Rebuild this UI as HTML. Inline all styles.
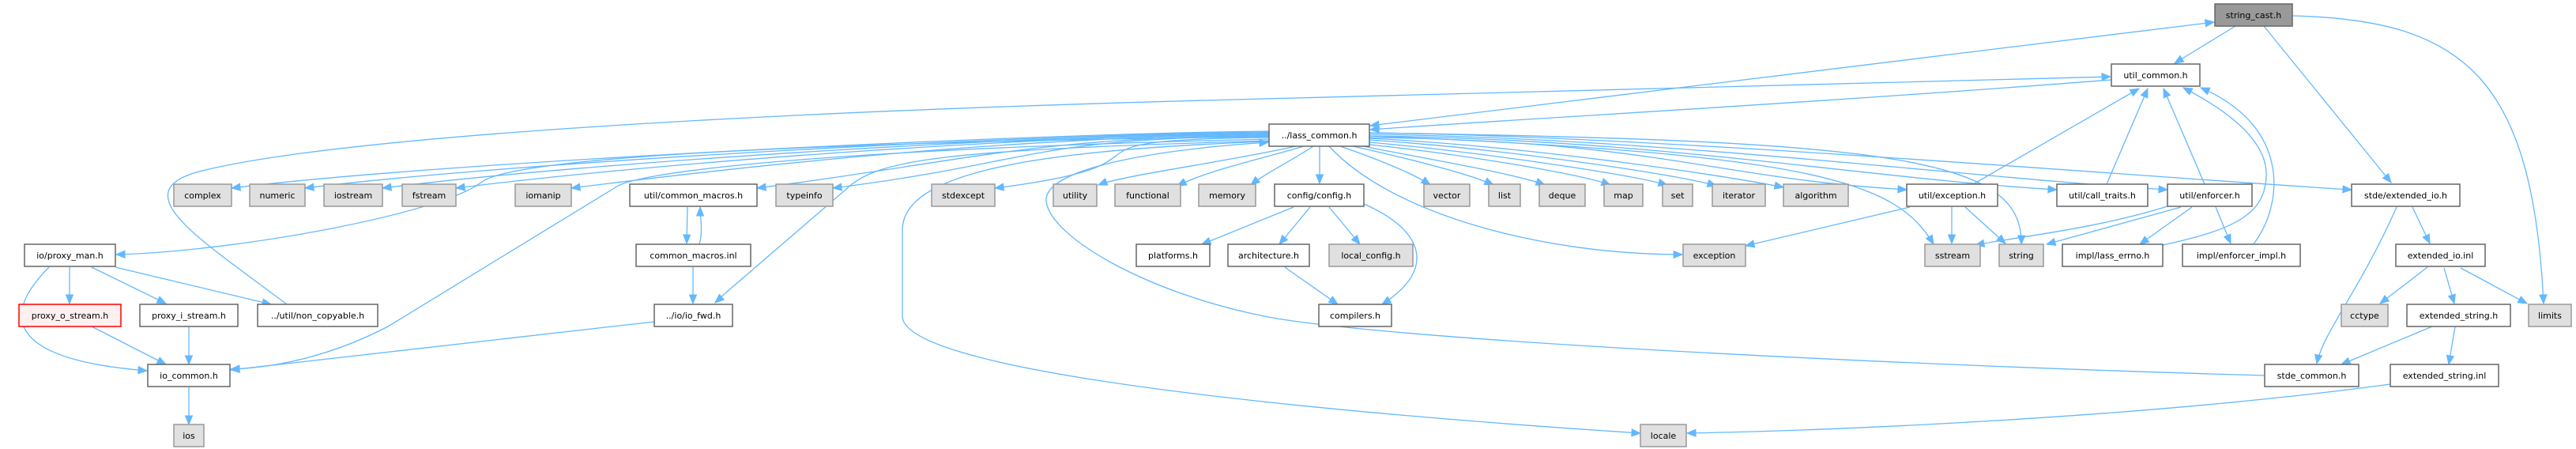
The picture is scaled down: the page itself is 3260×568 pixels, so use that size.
<!DOCTYPE html>
<html><head><meta charset="utf-8">
<style>
html,body{margin:0;padding:0;background:#fff;}
svg{display:block;}
text{font-family:"DejaVu Sans","Liberation Sans",sans-serif;font-size:11px;fill:#000;}
</style></head>
<body>
<svg id="g" width="3260" height="568" viewBox="0 0 3260 568" xmlns="http://www.w3.org/2000/svg">
<g id="edges" fill="none" stroke="#63b8ff" stroke-width="1.3"></g>
<g id="arrows" fill="#63b8ff" stroke="#63b8ff" stroke-width="1"></g>
<g id="nodes">
<!-- row0 -->
<rect x="2803" y="5" width="98" height="28" fill="#999" stroke="#666" stroke-width="1.5"/><text x="2852" y="23" text-anchor="middle">string_cast.h</text>
<!-- row1 -->
<rect x="2672" y="81" width="112" height="28" fill="#fff" stroke="#666" stroke-width="1.5"/><text x="2728" y="99" text-anchor="middle">util_common.h</text>
<!-- row2 -->
<rect x="1606" y="157" width="127" height="28" fill="#fff" stroke="#666" stroke-width="1.5"/><text x="1669.5" y="175" text-anchor="middle">../lass_common.h</text>
<!-- row3 -->
<g id="r3"></g>
</g>
</svg>
<script>
var NS="http://www.w3.org/2000/svg";
var nodes=document.getElementById('nodes');
function node(label,x1,x2,y,gray,red){
  var r=document.createElementNS(NS,'rect');
  r.setAttribute('x',x1);r.setAttribute('y',y);r.setAttribute('width',x2-x1);r.setAttribute('height',28);
  r.setAttribute('fill',red?'#fff0f0':(gray?'#e0e0e0':'#fff'));
  r.setAttribute('stroke',red?'#f00':(gray?'#999':'#666'));r.setAttribute('stroke-width','1.5');
  nodes.appendChild(r);
  var t=document.createElementNS(NS,'text');
  t.setAttribute('x',(x1+x2)/2);t.setAttribute('y',y+18);t.setAttribute('text-anchor','middle');
  t.textContent=label;nodes.appendChild(t);
}
var R3=233,R4=309,R5=385,R6=461,R7=537;
[["complex",220,293,1],["numeric",316,386,1],["iostream",410,484,1],["fstream",509,577,1],["iomanip",652,723,1],
["util/common_macros.h",797,958,0],["typeinfo",982,1054,1],["stdexcept",1179,1259,1],["utility",1333,1388,1],
["functional",1411,1494,1],["memory",1517,1589,1],["config/config.h",1613,1726,0],["vector",1802,1860,1],
["list",1884,1924,1],["deque",1948,2006,1],["map",2030,2079,1],["set",2104,2142,1],["iterator",2167,2234,1],
["algorithm",2257,2339,1],["util/exception.h",2413,2528,0],["util/call_traits.h",2603,2718,0],["util/enforcer.h",2743,2850,0],
["stde/extended_io.h",2976,3113,0]].forEach(function(a){node(a[0],a[1],a[2],R3,a[3]);});
[["io/proxy_man.h",31,146,0],["common_macros.inl",805,950,0],["platforms.h",1438,1531,0],["architecture.h",1554,1657,0],
["local_config.h",1682,1788,1],["exception",2130,2209,1],["sstream",2436,2506,1],["string",2530,2586,1],
["impl/lass_errno.h",2610,2737,0],["impl/enforcer_impl.h",2762,2911,0],["extended_io.inl",3032,3145,0]].forEach(function(a){node(a[0],a[1],a[2],R4,a[3]);});
node("proxy_o_stream.h",24,153,R5,0,1);
[["proxy_i_stream.h",177,301,0],["../util/non_copyable.h",326,478,0],["../io/io_fwd.h",828,927,0],["compilers.h",1669,1761,0],
["cctype",2963,3022,1],["extended_string.h",3046,3177,0],["limits",3200,3254,1]].forEach(function(a){node(a[0],a[1],a[2],R5,a[3]);});
[["io_common.h",187,291,0],["stde_common.h",2866,2985,0],["extended_string.inl",3025,3162,0]].forEach(function(a){node(a[0],a[1],a[2],R6,a[3]);});
node("ios",220,258,R7,1);node("locale",2076,2134,R7,1);

var eg=document.getElementById('edges'),ag=document.getElementById('arrows');
function arrow(fx,fy,tx,ty){
  var dx=tx-fx,dy=ty-fy,L=Math.sqrt(dx*dx+dy*dy)||1;dx/=L;dy/=L;
  var bx=tx-dx*11,by=ty-dy*11,px=-dy*4.5,py=dx*4.5;
  var p=document.createElementNS(NS,'polygon');
  p.setAttribute('points',tx+','+ty+' '+(bx+px)+','+(by+py)+' '+(bx-px)+','+(by-py));ag.appendChild(p);
}
function E(d,fx,fy,tx,ty,f2){
  var p=document.createElementNS(NS,'path');p.setAttribute('d',d);eg.appendChild(p);
  arrow(fx,fy,tx,ty);
  if(f2)arrow(f2[0],f2[1],f2[2],f2[3]);
}
function C(sx,sy,c1x,c1y,c2x,c2y,tx,ty){E('M'+sx+','+sy+' C'+c1x+','+c1y+' '+c2x+','+c2y+' '+tx+','+ty,c2x,c2y,tx,ty);}
function Lk(sx,sy,tx,ty){E('M'+sx+','+sy+' L'+tx+','+ty,sx,sy,tx,ty);}
// lass_common -> far left row3
[[293,166],[386,167],[484,168],[577,169],[723,170],[958,171],[1054,172],[1259,174]].forEach(function(a){
  var x=a[0];C(1606,a[1],1300,a[1]+3,x+260,205,x,238);});
C(1640,185,1550,205,1420,222,1390,234);
C(1650,185,1600,200,1530,215,1490,235);
C(1662,185,1640,200,1600,220,1583,234);
Lk(1670,185,1670,232);
C(1696,185,1740,200,1790,220,1810,234);
C(1712,185,1780,200,1860,220,1890,234);
C(1725,185,1800,200,1920,220,1955,234);
C(1733,183,1850,195,2000,220,2038,234);
C(1733,180,1870,192,2060,220,2110,234);
C(1733,177,1900,188,2120,220,2172,235);
C(1733,175,1950,186,2200,225,2257,237);
[[2413,174],[2603,172],[2743,170],[2976,168]].forEach(function(a){C(1733,a[1],2100,a[1]+4,a[0]-250,225,a[0],240);});
C(1733,172,2300,195,2400,230,2447,309);
C(1733,168,2400,178,2560,200,2558,309);
E('M1606,178 C1200,190 1110,200 1070,240 L905,382',1070,240,905,383);
E('M1606,176 C1000,190 800,220 779,237 L491,413 C420,450 350,465 292,467',350,465,292,467);
E('M1606,173 C1000,180 650,200 610,230 C560,270 300,318 147,322',300,318,147,322);
C(1682,185,1760,270,1950,322,2129,322);
E('M1606,179 C1300,190 1142,220 1142,291 L1142,400 C1142,480 1800,530 2076,548',1800,532,2076,548);
E('M2866,475 C2400,462 1750,430 1600,400 C1450,370 1330,300 1324,255 C1320,215 1450,190 1605,180',1450,190,1605,180);
// lass <-> util_common / string_cast
C(2672,101,2300,130,1900,152,1734,164);
E('M1734,159 C2200,100 2600,50 2802,28',2600,50,2802,28,[2200,100,1734,159]);
E('M363,385 C250,300 150,240 260,215 C450,170 1000,140 1600,125 L2671,97',1600,125,2671,97);
// right side
Lk(2829,33,2752,80);
Lk(2865,33,3026,231);
C(2901,20,3120,25,3205,100,3219,384);
Lk(2497,233,2707,112);
Lk(2666,233,2718,112);
Lk(2790,233,2738,112);
E('M2737,310 C2830,290 2868,270 2868,220 C2868,170 2800,130 2763,111',2800,130,2763,111);
C(2851,310,2890,260,2900,160,2785,111);
Lk(2417,262,2209,311);
Lk(2470,262,2470,308);
Lk(2487,262,2538,308);
C(2743,261,2650,290,2550,300,2500,310);
Lk(2760,262,2590,309);
Lk(2774,262,2708,309);
Lk(2804,262,2823,308);
C(3033,262,2985,370,2940,420,2932,460);
Lk(3053,262,3075,308);
Lk(3072,338,3012,384);
Lk(3093,339,3106,384);
Lk(3114,339,3198,384);
Lk(3078,413,2963,461);
Lk(3107,413,3099,461);
C(3025,486,2700,530,2300,545,2135,548);
// left side
Lk(870,262,869,308);
C(885,309,890,290,886,275,886,262);
Lk(877,338,877,384);
Lk(828,407,292,468);
Lk(88,338,88,384);
Lk(116,338,210,384);
Lk(146,338,343,385);
C(62,338,0,400,10,455,186,469);
Lk(116,413,210,461);
Lk(239,413,239,461);
Lk(239,490,239,537);
Lk(1637,262,1521,309);
Lk(1658,262,1619,309);
Lk(1682,262,1721,309);
C(1726,258,1800,290,1820,340,1749,385);
Lk(1626,338,1693,385);
</script>
</body></html>
